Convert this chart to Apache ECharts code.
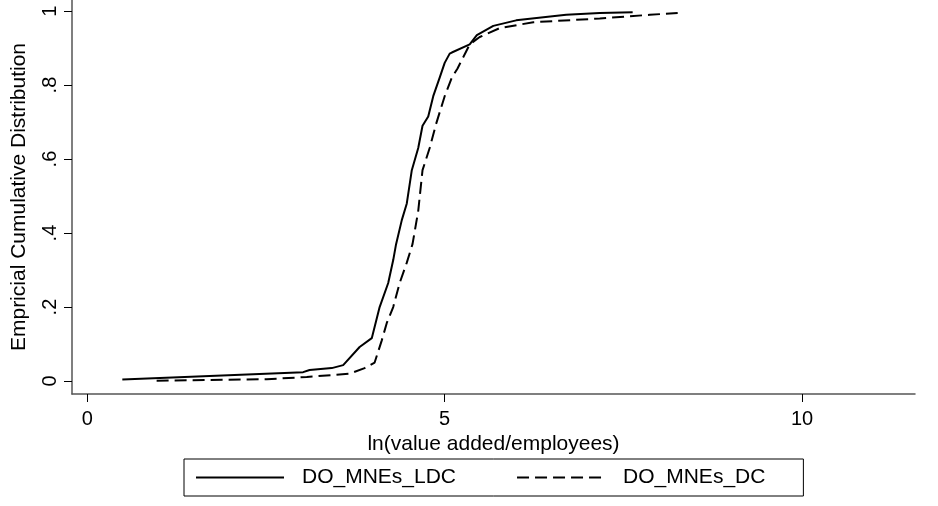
<!DOCTYPE html>
<html>
<head>
<meta charset="utf-8">
<script src="https://cdn.jsdelivr.net/npm/echarts@6/dist/echarts.min.js"></script>
<style>
html,body{margin:0;padding:0;background:#fff;}
#c{width:938px;height:506px;}
</style>
</head>
<body>
<div id="c"></div>
<script>
// Series names
var seriesNames = ['DO_MNEs_LDC', 'DO_MNEs_DC'];
// DO_MNEs_LDC (solid)
var ldcX = [0.49, 3.02, 3.11, 3.42, 3.58, 3.81, 3.98, 4.09, 4.21, 4.28, 4.32, 4.40, 4.47, 4.54, 4.63, 4.69, 4.77, 4.84, 4.93, 5.00, 5.07, 5.10, 5.35, 5.45, 5.68, 6.00, 6.70, 7.17, 7.63];
var ldcY = [0.004, 0.024, 0.030, 0.035, 0.043, 0.092, 0.116, 0.200, 0.265, 0.327, 0.370, 0.435, 0.480, 0.570, 0.630, 0.690, 0.715, 0.770, 0.820, 0.860, 0.885, 0.888, 0.910, 0.935, 0.960, 0.975, 0.990, 0.995, 0.997];
// DO_MNEs_DC (dashed)
var dcX = [0.97, 2.51, 3.07, 3.67, 3.88, 4.02, 4.12, 4.19, 4.28, 4.37, 4.47, 4.55, 4.63, 4.69, 4.79, 4.88, 5.00, 5.10, 5.18, 5.35, 5.49, 5.77, 6.24, 7.17, 7.87, 8.26];
var dcY = [0.001, 0.005, 0.011, 0.020, 0.035, 0.050, 0.110, 0.157, 0.200, 0.265, 0.320, 0.370, 0.460, 0.570, 0.630, 0.695, 0.770, 0.820, 0.845, 0.910, 0.930, 0.954, 0.970, 0.980, 0.990, 0.995];
// Tick values / labels
var xTicks = [0, 5, 10];
var yTicks = [0, 0.2, 0.4, 0.6, 0.8, 1];
var yTickLabels = ['0', '.2', '.4', '.6', '.8', '1'];
var xTitle = 'ln(value added/employees)';
var yTitle = 'Empricial Cumulative Distribution';

function zip(a, b) { return a.map(function (v, i) { return [v, b[i]]; }); }

var FONT = '"Liberation Sans", Arial, sans-serif';
var chart = echarts.init(document.getElementById('c'), null, {renderer: 'canvas'});
chart.setOption({
  animation: false,
  backgroundColor: '#fff',
  grid: {left: 72, right: 23, top: 0, bottom: 112, containLabel: false},
  xAxis: {
    type: 'value', min: -0.214, max: 11.58,
    name: xTitle, nameLocation: 'middle', nameGap: 33,
    nameTextStyle: {fontFamily: FONT, fontSize: 21, color: '#000'},
    axisLine: {show: true, onZero: false, lineStyle: {color: '#555', width: 1.5}},
    axisTick: {show: true, length: 8, customValues: xTicks, lineStyle: {color: '#000', width: 1}},
    axisLabel: {customValues: xTicks, margin: 15, fontFamily: FONT, fontSize: 20, color: '#000'},
    splitLine: {show: false}
  },
  yAxis: {
    type: 'value', min: -0.035, max: 1.03,
    name: yTitle, nameLocation: 'middle', nameGap: 42, nameRotate: 90,
    nameTextStyle: {fontFamily: FONT, fontSize: 21, color: '#000'},
    axisLine: {show: true, onZero: false, lineStyle: {color: '#555', width: 1.5}},
    axisTick: {show: true, length: 8, customValues: yTicks, lineStyle: {color: '#000', width: 1}},
    axisLabel: {
      customValues: yTicks, rotate: 90, margin: 12, fontFamily: FONT, fontSize: 20, color: '#000',
      formatter: function (v) {
        var i = yTicks.findIndex(function (t) { return Math.abs(t - v) < 1e-9; });
        return i >= 0 ? yTickLabels[i] : '';
      }
    },
    splitLine: {show: false}
  },
  legend: {
    data: seriesNames,
    left: 184, top: 459,
    orient: 'horizontal',
    padding: [8, 38, 8, 11],
    itemGap: 60,
    itemWidth: 88, itemHeight: 14,
    itemStyle: {color: 'rgba(0,0,0,0)', borderWidth: 0, opacity: 0},
    borderColor: '#000', borderWidth: 1, borderRadius: 0,
    textStyle: {fontFamily: FONT, fontSize: 21, color: '#000', padding: [0, 0, 0, 13]}
  },
  series: [
    {
      name: seriesNames[0], type: 'line', data: zip(ldcX, ldcY),
      symbol: 'none', smooth: false,
      lineStyle: {color: '#000', width: 2, type: 'solid'},
      itemStyle: {color: '#000'}
    },
    {
      name: seriesNames[1], type: 'line', data: zip(dcX, dcY),
      symbol: 'none', smooth: false,
      lineStyle: {color: '#000', width: 2, type: [12, 6]},
      itemStyle: {color: '#000'}
    }
  ]
});
</script>
</body>
</html>
